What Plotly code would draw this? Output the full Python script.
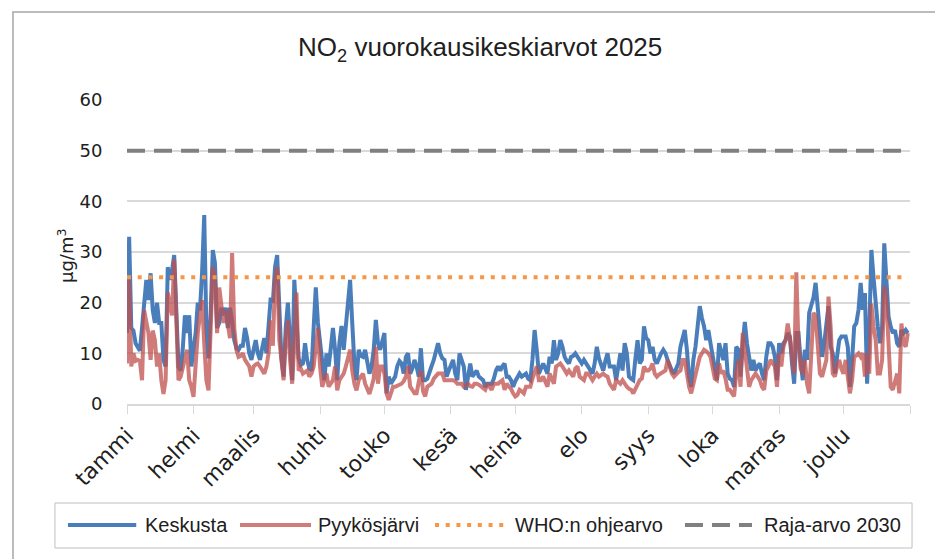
import pandas as pd
import plotly.graph_objects as go

# daily NO2 means 2025 (µg/m3), one row per month
keskusta = [
    14, 33, 15, 14.5, 12, 11, 10.5, 15, 20, 24.5, 20.5, 25.8, 18.5, 16, 20, 16, 16, 8.7, 7.4, 27, 24.5, 26.4, 29.4, 16.5, 7.4, 6.6, 11, 17.5, 14, 17.5, 7.4,
    11, 14, 20, 18.5, 26, 37.3, 15, 9, 18, 30.4, 27.8, 15, 16, 19, 17.5, 19, 15, 19, 16.5, 12.6, 11, 10.7, 11.5, 11.5, 15, 13, 10, 8.7,
    10.7, 12.6, 10, 8.7, 11, 13, 10, 16, 21, 20, 27, 29.4, 17.5, 9, 5.4, 15, 20, 12.6, 4.7, 24.5, 15, 9, 7.7, 8, 12, 8.7, 7, 6.6, 15, 23, 16,
    12.6, 8, 4.7, 10, 7.4, 11, 15, 10.7, 4.7, 12, 15.4, 10.7, 15, 19, 24.5, 16, 8, 4.7, 10.7, 9.5, 9.3, 10.7, 8, 6, 7.4, 10.7, 16.6, 12, 10.7, 12.6,
    14, 2.1, 5.4, 4, 4.7, 5.4, 7.5, 8.5, 8, 6, 9.3, 10, 6, 7, 8.7, 7.4, 5.4, 11, 4.7, 4.7, 5, 6, 7.5, 8.7, 10.7, 12, 10, 9, 8.7, 5.4, 6.6,
    7.5, 8.7, 6, 4.7, 10, 8.5, 7.4, 2.8, 5, 8, 5.4, 6, 6.6, 5.4, 5, 4.7, 3.4, 4, 4, 4, 5, 6.6, 7.4, 6.6, 7.5, 8, 5.4, 5.4, 4.7, 3.4,
    4.5, 5.4, 6, 5.4, 5.8, 6, 5, 4.7, 8.7, 14.6, 10.7, 6, 7, 8, 7, 6, 9.3, 8, 12.6, 8.7, 10, 12.6, 11.3, 9.3, 8.5, 8, 9.3, 9.5, 10, 9.3, 8.5,
    8, 8.7, 8, 7.4, 6.5, 6, 8, 11.3, 9, 8, 6.6, 8.5, 10, 7.4, 7.4, 7.4, 4.7, 7, 10, 6.6, 12, 10, 5.4, 5, 4.7, 9, 12.6, 8, 8.7, 15.3, 13,
    12.6, 10, 11.3, 8.7, 8, 9.3, 10, 10.7, 10, 8.7, 7.5, 6.6, 6, 7, 8, 11.3, 13, 14.6, 10.7, 5.4, 3.4, 8.7, 11.3, 15.3, 19.3, 17, 15.3, 12.6, 14.6, 12,
    9.5, 7.4, 4.7, 12, 10, 8.7, 12, 6, 5, 4.7, 3.4, 11.3, 10.7, 5.4, 12, 16.2, 12, 8.7, 6.6, 8.7, 6.6, 7.5, 8, 6, 4.7, 9.3, 12, 12, 11.3, 9.3, 4.7,
    12, 10, 12, 12.6, 14, 13.3, 8, 4, 14, 14, 8.7, 4.7, 10.7, 8.7, 18, 19.3, 21, 23.9, 19.3, 14, 9.3, 12, 16, 19.3, 11.3, 10, 6, 9.3, 12.6, 13.3,
    13.3, 13.3, 11.3, 3.4, 8.7, 15.3, 16, 18.6, 23.9, 18.6, 21.9, 4, 14, 30.4, 25, 19.3, 15.3, 12, 15.3, 31.7, 23.2, 17.3, 15.3, 14, 14.6, 12, 11.3, 14.6, 14, 14.6, 14,
]

pyykosjarvi = [
    8, 24.5, 7.4, 10, 8.5, 8.7, 8.5, 4.7, 18.5, 16.5, 14, 8.7, 14.5, 12.6, 7.4, 10, 4.7, 2, 4.7, 22, 19.4, 17.5, 28.5, 14, 4.7, 5.4, 7.4, 8.7, 10.7, 4.7, 3.4,
    1.4, 8, 14, 17.5, 20.5, 12, 4.7, 2.7, 15, 27, 24.5, 14, 23, 18.5, 16, 18.5, 16, 13, 29.8, 15, 10.7, 9.3, 9.5, 10, 8.7, 8, 7.4, 5.4,
    7.4, 7.8, 8, 7.4, 6.5, 6, 7.4, 10, 16.5, 11.5, 24.5, 27, 12.6, 8, 4.7, 13, 16.5, 8.7, 4, 12, 22, 6.6, 7, 6, 6.3, 6.6, 5.4, 6, 7.4, 12, 15,
    7.4, 3.4, 4.7, 6, 3.4, 4, 4.7, 7.4, 2.7, 4.7, 5.5, 6, 7.4, 9, 10.7, 6.6, 4, 2.7, 4.7, 5.4, 6, 4, 3, 2, 3.4, 5, 11.3, 4, 7.4, 7.4,
    6, 2.1, 0.8, 2, 3.4, 3.4, 3.6, 4, 4, 4.5, 5.4, 7.4, 3.4, 2.8, 2.1, 2.1, 4, 6.6, 2.5, 1.5, 3.4, 3.8, 4, 5, 5.4, 6, 6, 6, 4.7, 4.7, 4.7,
    4.7, 4.7, 4.5, 4, 4, 4, 3.4, 3.6, 4, 3.5, 3.4, 4, 4, 3.8, 3.4, 3, 2.8, 4, 3.4, 2.8, 4, 4, 4, 4.4, 4.7, 2.8, 4, 3.4, 3, 2.1,
    1.5, 1.8, 2.8, 2.5, 2.1, 3.4, 3.4, 3.4, 5, 6, 7.4, 4.7, 4.7, 5.4, 4.5, 3.4, 6, 5, 4, 7.4, 7.8, 8, 7.4, 6.5, 6, 6.6, 6, 5.4, 7, 7.4, 5.4,
    5, 4.7, 6, 6, 5.4, 4.7, 5.4, 6, 5.4, 5.8, 6, 5.6, 5.4, 4, 3.4, 2.8, 4.7, 4.3, 4, 4.7, 4, 3.4, 3, 2.8, 2.1, 3, 4, 4.7, 5, 7.4, 6.6,
    6.6, 7, 8, 6, 5.4, 5.8, 6, 6.3, 6.6, 8.7, 7.4, 6, 5.4, 6, 6.3, 6.6, 8.7, 8.7, 5.4, 3.4, 2.1, 4, 6, 8, 9.3, 10, 10.7, 10.4, 10, 9.3,
    6.6, 5, 4.7, 8, 6, 6.6, 5, 2.8, 2.8, 2.2, 1.5, 6, 8.7, 3.4, 14, 10.7, 6, 3.4, 4.7, 5.5, 6, 5.4, 4.7, 3.4, 2.8, 6.6, 7.4, 8.7, 8, 7.4, 3.4,
    10, 7.4, 11.3, 12.6, 15.9, 13, 9.3, 6, 26, 12, 7, 6, 8.7, 4, 2.1, 11.3, 18, 17.3, 12, 6, 5.4, 7, 8.7, 21.2, 15.3, 6, 5.4, 7.4, 8.7, 7,
    6, 8.7, 6, 2.1, 4.7, 9.3, 9.6, 10, 9.3, 10, 5.4, 10, 6, 19.8, 15.3, 12.6, 6, 6, 8.7, 23.2, 20.5, 12, 3.4, 2.8, 4.5, 6, 2.1, 15.9, 12, 11.3, 14,
]

who_ohjearvo = 25
raja_arvo_2030 = 50

kuukaudet = ["tammi", "helmi", "maalis", "huhti", "touko", "kesä",
             "heinä", "elo", "syys", "loka", "marras", "joulu"]

sarjat = ["Keskusta", "Pyykösjärvi", "WHO:n ohjearvo", "Raja-arvo 2030"]

paivat = pd.date_range("2025-01-01", "2025-12-31", freq="D")
assert len(paivat) == len(keskusta) == len(pyykosjarvi)
kuun_alut = list(pd.date_range("2025-01-01", "2025-12-01", freq="MS"))

SANS = "Liberation Sans, Arial, sans-serif"
WIDE = "DejaVu Sans, Verdana, sans-serif"
TXT = "#202020"

tyylit = [
    dict(color="#4A7EBB", width=4),
    dict(color="#C0504D", width=4),
    dict(color="#F79646", width=4, dash="4px,6.7px"),
    dict(color="#808080", width=4, dash="18px,9px"),
]

fig = go.Figure()
fig.add_trace(go.Scatter(x=paivat, y=keskusta, name=sarjat[0], mode="lines", line=tyylit[0]))
fig.add_trace(go.Scatter(x=paivat, y=pyykosjarvi, name=sarjat[1], mode="lines", line=tyylit[1], opacity=0.75))
fig.add_trace(go.Scatter(x=paivat, y=[who_ohjearvo] * len(paivat), name=sarjat[2], mode="lines", line=tyylit[2]))
fig.add_trace(go.Scatter(x=paivat, y=[raja_arvo_2030] * len(paivat), name=sarjat[3], mode="lines", line=tyylit[3]))

# hand made legend (Excel style: long line samples), positions in paper units of the plot area
shapes = [
    dict(type="rect", xref="paper", yref="paper", x0=-0.1456, x1=1.06, y0=-0.53, y1=1.2895,
         line=dict(color="#A6A6A6", width=1.5), layer="below"),
    dict(type="rect", xref="paper", yref="paper", x0=-0.092, x1=1.0026, y0=-0.4737, y1=-0.3257,
         line=dict(color="#BFBFBF", width=1)),
]
annotations = [
    dict(text="µg/m<sup>3</sup>", textangle=-90, xref="paper", yref="paper",
         x=-0.0958, y=0.49, showarrow=False, font=dict(family=WIDE, size=18, color=TXT)),
]
viiva_x = [(-0.0754, 0.0118), (0.1443, 0.2350), (0.3934, 0.4815), (0.7126, 0.7982)]
teksti_x = [0.0204, 0.2413, 0.4926, 0.8109]
yl = -0.398
for i, nimi in enumerate(sarjat):
    tyyli = dict(tyylit[i])
    if i == 1:
        tyyli["color"] = "rgba(192,80,77,0.75)"
    shapes.append(dict(type="line", xref="paper", yref="paper", x0=viiva_x[i][0], x1=viiva_x[i][1],
                       y0=yl, y1=yl, line=tyyli))
    annotations.append(dict(text=nimi, xref="paper", yref="paper", x=teksti_x[i], y=yl,
                            xanchor="left", yanchor="middle", showarrow=False,
                            font=dict(family=SANS, size=20, color=TXT)))

# page body has an 8 px margin, so the figure is 8 px smaller than the window
fig.update_layout(
    width=935, height=551,
    margin=dict(l=119, r=33, t=92, b=155),
    paper_bgcolor="white", plot_bgcolor="white",
    showlegend=False,
    font=dict(family=SANS, size=17, color=TXT),
    title=dict(text="NO<sub>2</sub> vuorokausikeskiarvot 2025", x=0.505, xanchor="center",
               y=0.929, yanchor="middle", font=dict(family=SANS, size=26, color=TXT)),
    xaxis=dict(type="date", range=["2025-01-01", "2026-01-01"],
               tickmode="array", tickvals=kuun_alut, ticktext=kuukaudet,
               tickangle=-45, ticks="outside", ticklen=8, tickcolor="#D9D9D9",
               minor=dict(ticks="outside", dtick="M1", tick0="2025-01-01", ticklen=8,
                          tickcolor="#D9D9D9", showgrid=False),
               showgrid=False, showline=True, linecolor="#D9D9D9", linewidth=1.5,
               tickfont=dict(family=WIDE, size=22, color=TXT)),
    yaxis=dict(range=[0, 60], dtick=10, showgrid=True, gridcolor="#D9D9D9", gridwidth=1.5,
               zeroline=False, showline=False, ticks="outside", ticklen=20,
               tickcolor="rgba(0,0,0,0)", tickfont=dict(family=WIDE, size=18, color=TXT)),
    annotations=annotations,
    shapes=shapes,
)

fig.write_html("out.html")
